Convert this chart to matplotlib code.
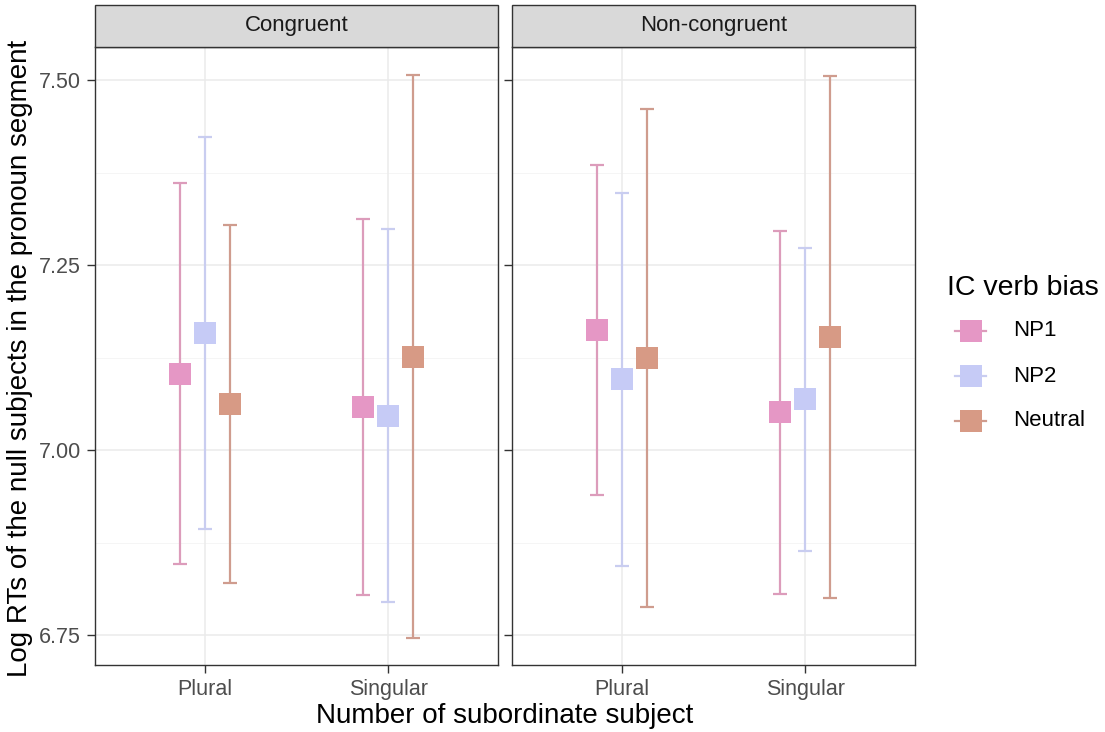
import numpy as np
import matplotlib
matplotlib.use('Agg')
import matplotlib.pyplot as plt
from matplotlib.lines import Line2D
from matplotlib.patches import Rectangle

plt.rcParams['font.family'] = ['Liberation Sans', 'DejaVu Sans']

# data
panels = ['Congruent', 'Non-congruent']
numbers = ['Plural', 'Singular']
biases = ['NP1', 'NP2', 'Neutral']

# means [panel][bias] -> (Plural, Singular)
means = {
    'Congruent': {'NP1': [7.103, 7.058], 'NP2': [7.158, 7.046], 'Neutral': [7.062, 7.126]},
    'Non-congruent': {'NP1': [7.162, 7.051], 'NP2': [7.096, 7.069], 'Neutral': [7.125, 7.153]},
}
upper = {
    'Congruent': {'NP1': [7.361, 7.312], 'NP2': [7.423, 7.299], 'Neutral': [7.304, 7.507]},
    'Non-congruent': {'NP1': [7.385, 7.296], 'NP2': [7.347, 7.273], 'Neutral': [7.461, 7.505]},
}
lower = {
    'Congruent': {'NP1': [6.846, 6.804], 'NP2': [6.893, 6.795], 'Neutral': [6.820, 6.746]},
    'Non-congruent': {'NP1': [6.939, 6.805], 'NP2': [6.843, 6.864], 'Neutral': [6.788, 6.800]},
}

point_colors = {'NP1': '#e597c5', 'NP2': '#c6cbf6', 'Neutral': '#d79a85'}
bar_colors = {'NP1': '#dc9cbb', 'NP2': '#c9cdf0', 'Neutral': '#cf9c8e'}
offsets = {'NP1': -0.135, 'NP2': 0.0, 'Neutral': 0.135}

W, H = 1105, 732
fig = plt.figure(figsize=(W / 100, H / 100), dpi=100)

text_grey = '#4d4d4d'
frame = '#333333'

lefts = [95, 512]
for i, panel in enumerate(panels):
    x0 = lefts[i]
    ax = fig.add_axes([x0 / W, 1 - 665 / H, 403 / W, 618 / H])
    ax.set_xlim(0.4, 2.6)
    ax.set_ylim(6.7095, 7.5446)

    # grid
    for v in [6.875, 7.125, 7.375]:
        ax.axhline(v, color='#f4f4f4', lw=0.6, zorder=0)
    for v in [6.75, 7.0, 7.25, 7.5]:
        ax.axhline(v, color='#ebebeb', lw=1.1, zorder=0)
    for v in [1, 2]:
        ax.axvline(v, color='#ebebeb', lw=1.1, zorder=0)

    xs = np.arange(1, len(numbers) + 1)
    for b in biases:
        m = np.array(means[panel][b])
        lo = np.array(lower[panel][b])
        hi = np.array(upper[panel][b])
        ax.errorbar(xs + offsets[b], m, yerr=[m - lo, hi - m], fmt='none',
                    ecolor=bar_colors[b], elinewidth=1.6, capsize=5, capthick=1.6, zorder=2)
        ax.plot(xs + offsets[b], m, 's', color=point_colors[b], markersize=15.5,
                markeredgewidth=0, zorder=3)

    ax.set_xticks(xs)
    ax.set_xticklabels(numbers, fontsize=15.5, color=text_grey)
    ax.set_yticks([6.75, 7.0, 7.25, 7.5])
    if i == 0:
        ax.set_yticklabels(['6.75', '7.00', '7.25', '7.50'], fontsize=15.5, color=text_grey)
    else:
        ax.set_yticklabels([])
        ax.tick_params(axis='y', length=0)
    ax.tick_params(axis='both', direction='out', length=6, width=1, color=frame, pad=4)
    for s in ax.spines.values():
        s.set_color(frame)
        s.set_linewidth(1.0)

    # strip
    strip = Rectangle((x0 / W, 1 - 47 / H), 403 / W, 42 / H, transform=fig.transFigure,
                      facecolor='#d9d9d9', edgecolor=frame, lw=1.0)
    fig.patches.append(strip)
    fig.text((x0 + 201.5) / W, 1 - 26 / H, panel, ha='center', va='center',
             fontsize=16, color='#1a1a1a')

fig.text(505 / W, 1 - 716 / H, 'Number of subordinate subject', ha='center', va='center',
         fontsize=20, color='black')
fig.text(20 / W, 1 - 358 / H, 'Log RTs of the null subjects in the pronoun segment',
         ha='center', va='center', rotation=90, fontsize=20, color='black')

# legend drawn by hand in pixel positions
fig.text(947 / W, 1 - 288 / H, 'IC verb bias', ha='left', va='center', fontsize=20.5,
         color='black')
legend_y = [331, 376, 421]
for b, y in zip(biases, legend_y):
    yf = 1 - y / H
    fig.add_artist(Line2D([955 / W, 986 / W], [yf, yf], transform=fig.transFigure,
                          color=bar_colors[b], lw=1.6))
    fig.add_artist(Line2D([970.5 / W], [yf], transform=fig.transFigure, marker='s',
                          markersize=15.5, color=point_colors[b], markeredgewidth=0,
                          linestyle='none'))
    fig.text(1013 / W, yf, b, ha='left', va='center', fontsize=16, color='black')

fig.savefig('out.png', dpi=100)
